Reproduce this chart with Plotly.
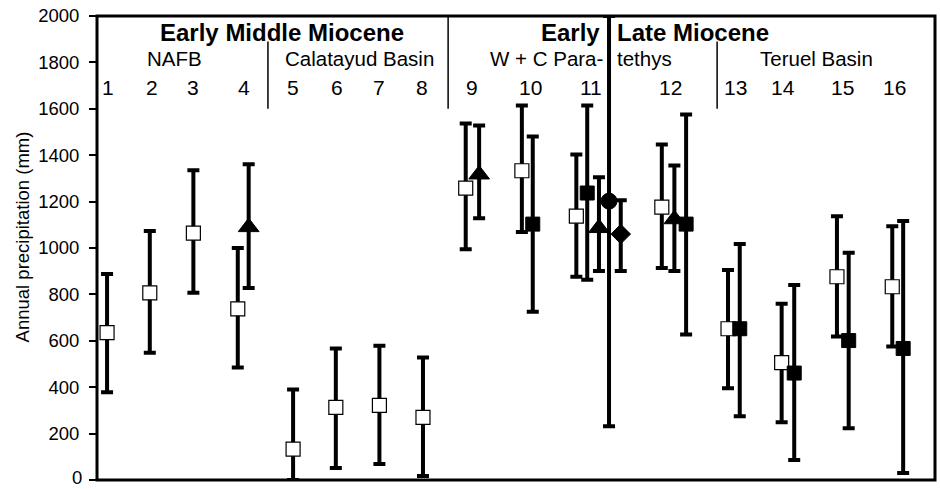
import plotly.graph_objects as go

# ---------------- data ----------------
# x = position along the horizontal axis (0..100), values in mm
open_x = [1.2, 6.3, 11.5, 16.8, 23.4, 28.5, 33.7, 38.9, 44.0, 50.7, 57.2, 67.4, 75.3, 81.7, 88.3, 94.9]
open_val = [635, 807, 1064, 738, 133, 313, 322, 270, 1258, 1333, 1137, 1176, 652, 506, 876, 833]
open_hi = [888, 1073, 1335, 1000, 390, 567, 579, 528, 1537, 1614, 1403, 1446, 905, 760, 1137, 1094]
open_lo = [378, 549, 807, 485, 0, 52, 69, 17, 995, 1069, 876, 914, 395, 249, 618, 575]

fsq_x = [52.0, 58.5, 70.3, 76.7, 83.2, 89.7, 96.2]
fsq_val = [1103, 1237, 1103, 652, 461, 601, 567]
fsq_hi = [1481, 1614, 1575, 1017, 841, 979, 1116]
fsq_lo = [725, 863, 627, 275, 86, 223, 30]

tri_x = [18.1, 45.6, 59.9, 68.9]
tri_val = [1090, 1317, 1086, 1124]
tri_hi = [1361, 1528, 1305, 1356]
tri_lo = [828, 1128, 901, 901]

circ_x = [61.1]
circ_val = [1202]
circ_hi = [2000]
circ_lo = [232]

dia_x = [62.5]
dia_val = [1060]
dia_hi = [1206]
dia_lo = [901]

site_labels = [str(i) for i in range(1, 17)]
site_label_x = [1.3, 6.6, 11.5, 17.5, 23.4, 28.6, 33.7, 38.8, 44.7, 51.7, 59.0, 68.4, 76.2, 81.9, 89.0, 95.2]

y_ticks = list(range(0, 2001, 200))

FONT = "Liberation Sans, Arial, sans-serif"

fig = go.Figure()


def add_series(xs, vals, his, los, symbol, size, fill, line_w):
    fig.add_trace(go.Scatter(
        x=xs, y=vals, mode="markers",
        marker=dict(symbol=symbol, size=size, color=fill,
                    line=dict(color="black", width=line_w)),
        error_y=dict(type="data", symmetric=False,
                     array=[h - v for h, v in zip(his, vals)],
                     arrayminus=[v - l for v, l in zip(vals, los)],
                     color="black", thickness=4, width=6),
        showlegend=False, cliponaxis=False, hoverinfo="skip",
    ))


add_series(open_x, open_val, open_hi, open_lo, "square", 14, "white", 1.2)
add_series(fsq_x, fsq_val, fsq_hi, fsq_lo, "square", 14, "black", 1)
add_series(tri_x, tri_val, tri_hi, tri_lo, "triangle-up", 18, "black", 1)
add_series(circ_x, circ_val, circ_hi, circ_lo, "circle", 16, "black", 1)
add_series(dia_x, dia_val, dia_hi, dia_lo, "diamond", 15, "black", 1)

ann = []
for lab, x in zip(site_labels, site_label_x):
    ann.append(dict(x=x, y=1691, xref="x", yref="y", text=lab, showarrow=False,
                    font=dict(size=21, color="black", family=FONT)))


def txt(x, y, s, size, bold=False, anchor="center"):
    ann.append(dict(x=x, y=y, xref="x", yref="y", text=("<b>%s</b>" % s) if bold else s,
                    showarrow=False, xanchor=anchor,
                    font=dict(size=size, color="black", family=FONT)))


txt(22.1, 1931, "Early Middle Miocene", 24, True)
txt(60.3, 1931, "Early", 24, True, "right")
txt(61.8, 1931, "Late Miocene", 24, True, "left")
txt(9.3, 1815, "NAFB", 20.5)
txt(31.3, 1815, "Calatayud Basin", 20.5)
txt(60.6, 1815, "W + C Para-", 20.5, False, "right")
txt(61.8, 1815, "tethys", 20.5, False, "left")
txt(85.8, 1815, "Teruel Basin", 20.5)

ann.append(dict(x=-0.0895, y=0.525, xref="paper", yref="paper", text="Annual precipitation (mm)",
                textangle=-90, showarrow=False, xanchor="center", yanchor="middle",
                font=dict(size=18.5, color="black", family=FONT)))
# bottom tick label (plotly drops it at the very edge of the page)
ann.append(dict(x=-0.016, y=y_ticks[0], xref="paper", yref="y", text=str(y_ticks[0]),
                showarrow=False, xanchor="right", yanchor="middle", yshift=3,
                font=dict(size=18.5, color="black", family=FONT)))

shapes = [
    dict(type="line", xref="x", yref="y", x0=20.4, x1=20.4, y0=1600, y1=1890,
         line=dict(color="black", width=1.5)),
    dict(type="line", xref="x", yref="y", x0=41.9, x1=41.9, y0=1600, y1=2000,
         line=dict(color="black", width=1.5)),
    dict(type="line", xref="x", yref="y", x0=74.0, x1=74.0, y0=1600, y1=1890,
         line=dict(color="black", width=1.5)),
    dict(type="rect", xref="paper", yref="paper", x0=0, x1=1, y0=0, y1=1,
         line=dict(color="black", width=3), layer="above"),
]

fig.update_layout(
    width=940, height=489,
    margin=dict(l=97, r=5, t=14, b=9),
    paper_bgcolor="white", plot_bgcolor="white",
    annotations=ann, shapes=shapes,
    font=dict(family=FONT, color="black"),
    hovermode=False,
    xaxis=dict(range=[0, 100], showgrid=False, zeroline=False, showticklabels=False,
               ticks="", showline=False),
    yaxis=dict(range=[0, 2000], tickvals=y_ticks, showgrid=False, zeroline=False,
               ticks="outside", ticklen=7, tickwidth=2, tickcolor="black",
               ticklabelstandoff=6,
               tickfont=dict(size=18.5, color="black", family=FONT),
               showline=False),
)

fig.write_html("out.html", config={"displayModeBar": False, "staticPlot": True},
               post_script="document.body.style.margin='0';")
